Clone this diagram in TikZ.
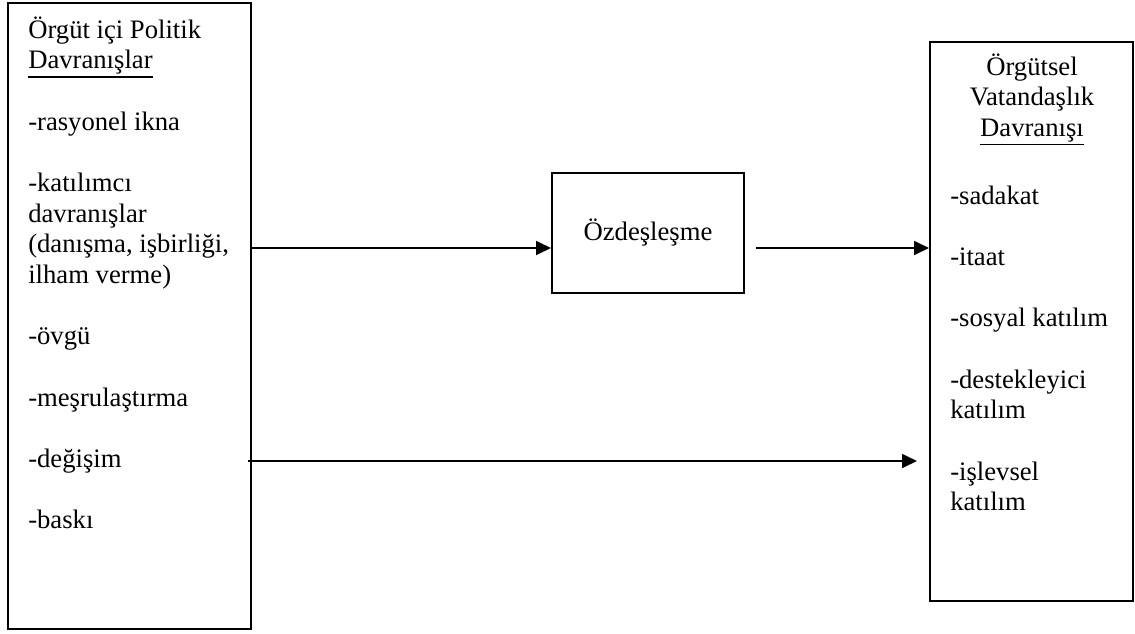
\documentclass[tikz,border=0pt]{standalone}
\usepackage{fontspec}
\setmainfont{Liberation Serif}
\usetikzlibrary{arrows.meta}
% word with a heavier rule beneath it, baseline kept on the word
\newcommand{\ulword}[1]{\leavevmode\vtop{\hbox{#1}\kern1pt\hrule height 1.2pt}}
\begin{document}
\begin{tikzpicture}[
  x=0.75pt, y=-0.75pt,
  box/.style={draw=black, line width=1.5pt, rectangle, inner sep=0pt, fill=white},
  body/.style={inner sep=0pt, font=\fontsize{20}{23}\selectfont},
  flow/.style={draw=black, line width=1.3pt, -{Triangle[length=11.25pt, width=10.5pt]}}
]
\useasboundingbox (0,0) rectangle (1135,633);

% frames
\node[box, minimum width=182.25pt, minimum height=469.5pt] (leftbox) at (129.5,316) {};
\node[box, body, minimum width=144pt, minimum height=90pt] (midbox) at (648,233) {Özdeşleşme};
\node[box, minimum width=152.25pt, minimum height=419.25pt] (rightbox) at (1031.5,321.5) {};

% contents of the left frame
\node[body, anchor=north west, align=left] (lefttext) at (28,12.67)
  {\rule{0pt}{19pt}Örgüt içi Politik\\
   \ulword{Davranışlar}\\[23pt]
   -rasyonel ikna\\[23pt]
   -katılımcı\\
   davranışlar\\
   (danışma, işbirliği,\\
   ilham verme)\\[23pt]
   -övgü\\[23pt]
   -meşrulaştırma\\[23pt]
   -değişim\\[23pt]
   -baskı};

% contents of the right frame
\node[body, anchor=north, align=center] (righthead) at (1032,49.67)
  {\rule{0pt}{19pt}Örgütsel\\
   Vatandaşlık\\
   \ulword{Davranışı}};
\node[body, anchor=north west, align=left] (rightitems) at (950,178.67)
  {\rule{0pt}{19pt}-sadakat\\[23pt]
   -itaat\\[23pt]
   -sosyal katılım\\[23pt]
   -destekleyici\\
   katılım\\[23pt]
   -işlevsel\\
   katılım};

% connector heights
\coordinate (upper) at (0,248);
\coordinate (lower) at (0,461);

% connectors
\draw[flow] (leftbox.east |- upper) -- (midbox.west |- upper);
\draw[flow, shorten <=8.25pt] (midbox.east |- upper) -- (rightbox.west |- upper);
\draw[flow, shorten <=-3pt, shorten >=9pt] (leftbox.east |- lower) -- (rightbox.west |- lower);
\end{tikzpicture}
\end{document}
